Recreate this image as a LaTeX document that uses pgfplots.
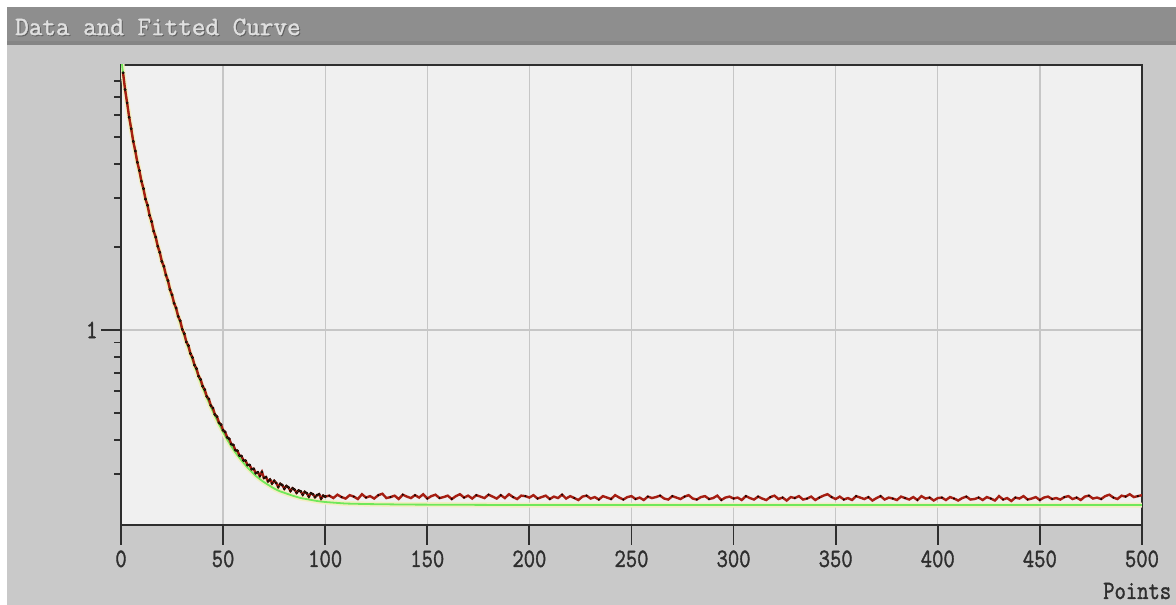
\documentclass[border=0pt]{standalone}
\usepackage{fontspec}
\newfontfamily\cour[FakeBold=1.6]{Latin Modern Mono}
\usepackage{graphicx}
\usepackage{pgfplots}
\usepackage{pgfplotstable}
\pgfplotsset{compat=1.18}
\definecolor{titlebar}{HTML}{8E8E8E}
\definecolor{panel}{HTML}{C9C9C9}
\definecolor{plotbg}{HTML}{F0F0F0}
\definecolor{gridc}{HTML}{C6C6C6}
\definecolor{framec}{HTML}{2E2E2E}
\definecolor{datared}{HTML}{A51E12}
\definecolor{datadark}{HTML}{6A140A}
\definecolor{datadot}{HTML}{3E2E12}
\definecolor{fitgreen}{HTML}{6FE85A}
\definecolor{halo}{HTML}{F3EEC4}

\pgfplotstableread{
x y
0 9.839
1 8.517
2 7.461
3 6.608
4 5.909
5 5.327
6 4.838
7 4.421
8 4.060
9 3.744
10 3.465
12 2.994
14 2.608
16 2.285
18 2.012
20 1.778
22 1.576
24 1.401
26 1.250
28 1.118
30 1.004
32 0.904
34 0.818
36 0.742
38 0.676
40 0.619
42 0.569
44 0.526
46 0.488
48 0.455
50 0.426
52 0.401
54 0.379
56 0.360
58 0.344
60 0.330
62 0.317
64 0.306
66 0.296
68 0.288
70 0.281
72 0.275
74 0.269
76 0.264
78 0.260
80 0.257
84 0.251
88 0.246
92 0.243
96 0.240
100 0.238
110 0.235
120 0.234
140 0.233
170 0.2325
200 0.232
500 0.232
}\fittable

\pgfplotstableread{
x y
1 8.55
2 7.43
3 6.65
4 5.90
5 5.36
6 4.82
7 4.45
8 4.05
9 3.78
10 3.46
11 3.25
12 2.98
13 2.83
14 2.60
15 2.47
16 2.28
17 2.17
18 2.01
19 1.91
20 1.77
21 1.70
22 1.58
23 1.51
24 1.40
25 1.34
26 1.25
27 1.20
28 1.12
29 1.08
30 1.005
31 0.970
32 0.905
33 0.878
34 0.822
35 0.795
36 0.746
37 0.724
38 0.680
39 0.662
40 0.625
41 0.608
42 0.574
43 0.562
44 0.532
45 0.521
46 0.494
47 0.485
48 0.461
49 0.454
50 0.433
51 0.427
52 0.408
53 0.403
54 0.386
55 0.383
56 0.367
57 0.365
58 0.351
59 0.349
60 0.337
61 0.336
62 0.324
63 0.324
64 0.313
65 0.314
66 0.303
67 0.305
68 0.296
69 0.306
70 0.291
71 0.293
72 0.283
73 0.287
74 0.278
75 0.284
76 0.279
77 0.270
78 0.277
79 0.274
80 0.266
81 0.272
82 0.269
83 0.261
84 0.267
85 0.264
86 0.257
87 0.262
88 0.260
89 0.253
90 0.259
91 0.256
92 0.249
93 0.256
94 0.254
95 0.248
96 0.252
97 0.254
98 0.245
99 0.251
100 0.249
102 0.251
104 0.246
106 0.253
108 0.248
110 0.245
112 0.252
114 0.249
116 0.244
118 0.254
120 0.247
122 0.250
124 0.245
126 0.252
128 0.255
130 0.246
132 0.248
134 0.251
136 0.244
138 0.253
140 0.249
142 0.246
144 0.252
146 0.247
148 0.254
150 0.245
152 0.250
154 0.253
156 0.246
158 0.248
160 0.251
162 0.244
164 0.250
166 0.254
168 0.247
170 0.251
172 0.245
174 0.252
176 0.249
178 0.246
180 0.253
182 0.249
184 0.245
186 0.252
188 0.246
190 0.254
192 0.248
194 0.244
196 0.251
198 0.250
200 0.247
202 0.252
204 0.245
206 0.248
208 0.251
210 0.244
212 0.249
214 0.246
216 0.253
218 0.245
220 0.250
222 0.246
224 0.242
226 0.249
228 0.251
230 0.245
232 0.248
234 0.243
236 0.250
238 0.247
240 0.244
242 0.252
244 0.247
246 0.243
248 0.248
250 0.250
252 0.244
254 0.247
256 0.242
258 0.249
260 0.246
262 0.248
264 0.251
266 0.245
268 0.243
270 0.250
272 0.247
274 0.244
276 0.249
278 0.252
280 0.245
282 0.243
284 0.248
286 0.250
288 0.244
290 0.246
292 0.251
294 0.242
296 0.247
298 0.249
300 0.245
302 0.247
304 0.242
306 0.250
308 0.246
310 0.243
312 0.249
314 0.245
316 0.242
318 0.248
320 0.251
322 0.244
324 0.247
326 0.241
328 0.248
330 0.246
332 0.250
334 0.243
336 0.245
338 0.249
340 0.242
342 0.247
344 0.251
346 0.254
348 0.248
350 0.244
352 0.249
354 0.243
356 0.246
358 0.242
360 0.250
362 0.247
364 0.244
366 0.248
368 0.241
370 0.246
372 0.250
374 0.243
376 0.247
378 0.245
380 0.242
382 0.249
384 0.246
386 0.243
388 0.248
390 0.242
392 0.250
394 0.245
396 0.247
398 0.241
400 0.246
402 0.247
404 0.242
406 0.248
408 0.245
410 0.241
412 0.246
414 0.249
416 0.243
418 0.244
420 0.247
422 0.242
424 0.248
426 0.245
428 0.241
430 0.250
432 0.243
434 0.246
436 0.240
438 0.247
440 0.245
442 0.250
444 0.243
446 0.245
448 0.248
450 0.242
452 0.247
454 0.249
456 0.244
458 0.246
460 0.243
462 0.248
464 0.250
466 0.244
468 0.247
470 0.242
472 0.249
474 0.251
476 0.245
478 0.247
480 0.244
482 0.250
484 0.253
486 0.247
488 0.244
490 0.251
492 0.249
494 0.254
496 0.248
498 0.250
500 0.252
}\datatable

\begin{document}
\begin{tikzpicture}[x=1pt,y=1pt]
\useasboundingbox (0,0) rectangle (1176,605);
\fill[white] (0,0) rectangle (1176,605);
\fill[panel] (7,0) rectangle (1176,562);
\fill[titlebar] (7,562) rectangle (1176,598);
\fill[black!48] (7,560) rectangle (1176,563.5);
\node[anchor=west, text=black!62, inner sep=0pt,
      font=\cour\fontsize{26.4}{26.4}\selectfont] at (16,577)
      {Data and Fitted Curve};
\node[anchor=west, text=white!88!black, inner sep=0pt,
      font=\cour\fontsize{26.4}{26.4}\selectfont] at (15,578)
      {Data and Fitted Curve};

\begin{axis}[
  at={(121pt,80pt)}, anchor=south west,
  scale only axis, width=1021pt, height=460pt,
  xmin=0, xmax=500,
  ymode=log, ymin=0.1965, ymax=9.12,
  axis background/.style={fill=plotbg},
  axis line style={framec, line width=2pt},
  xtick={0,50,...,500},
  ytick={1},
  minor ytick={0.3,0.4,0.5,0.6,0.7,0.8,0.9,2,3,4,5,6,7,8},
  xmajorgrids, ymajorgrids,
  major grid style={gridc, line width=1.3pt},
  tick align=outside, tick pos=left,
  major tick length=20pt, minor tick length=7pt,
  every tick/.style={framec, line width=1.8pt},
  xticklabel style={font=\cour\fontsize{22}{22}\selectfont, text=framec, yshift=-2pt},
  yticklabel style={font=\cour\fontsize{22}{22}\selectfont, text=framec},
  xticklabel={\scalebox{1}[1.2]{\pgfmathprintnumber[assume math mode=true]{\tick}}},
  yticklabel={\scalebox{1}[1.2]{1}},
]
\addplot[halo, line width=5pt, no marks] table {\fittable};
\addplot[fitgreen, line width=1.8pt, no marks] table {\fittable};
\addplot[datared, line width=2.4pt, no marks] table {\datatable};
\addplot[only marks, mark=*, mark size=1.2pt, mark options={draw=none, fill=datadot},
  restrict x to domain=0:100] table {\datatable};
\addplot[only marks, mark=*, mark size=0.8pt, mark repeat=3, mark options={draw=none, fill=datadark},
  restrict x to domain=101:500] table {\datatable};
\end{axis}

\node[anchor=west, text=framec, inner sep=0pt,
      font=\cour\fontsize{22}{22}\selectfont] at (1103,14)
      {\scalebox{1}[1.2]{Points}};
\end{tikzpicture}
\end{document}
